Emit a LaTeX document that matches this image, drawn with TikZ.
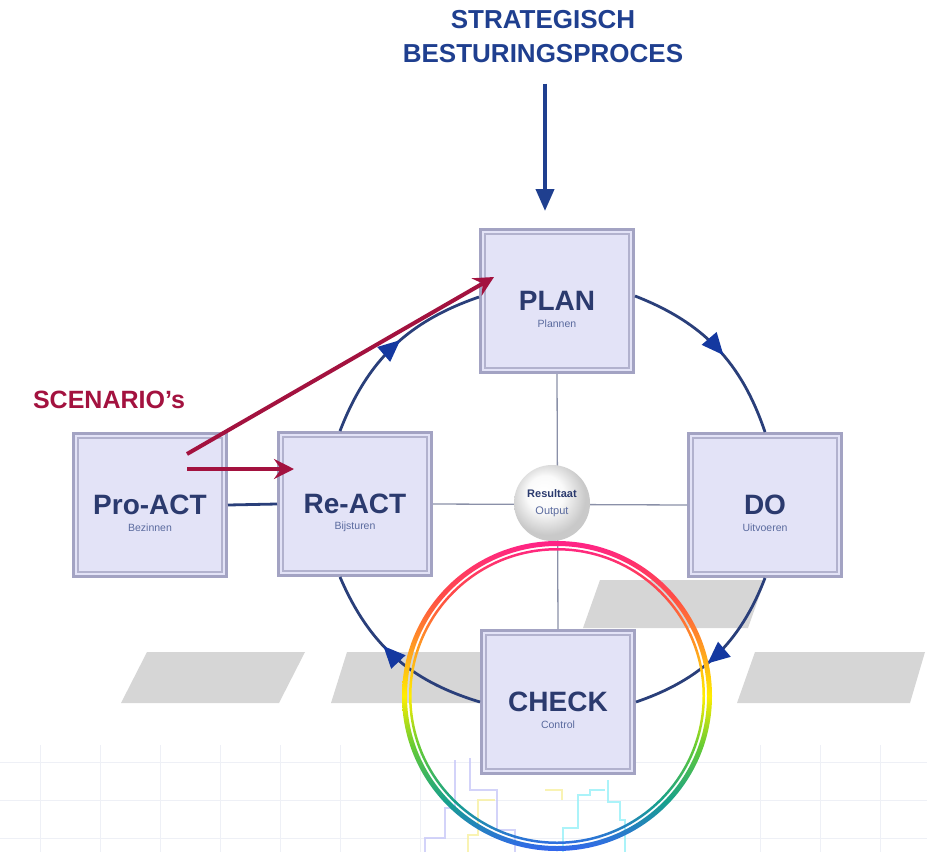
\documentclass[tikz,border=0pt]{standalone}
\usepackage{fontspec}
\setmainfont{Liberation Sans}
\usetikzlibrary{arrows.meta,decorations.markings,calc,shadings}
\definecolor{navy}{HTML}{2B3A6E}
\definecolor{subc}{HTML}{5A6A9E}
\definecolor{boxfill}{HTML}{E3E3F7}
\definecolor{boxedge}{HTML}{A3A3C3}
\definecolor{boxinner}{HTML}{B2B2CE}
\definecolor{arcnavy}{HTML}{2A3F7A}
\definecolor{arrowblue}{HTML}{1438A0}
\definecolor{titleblue}{HTML}{1F3F8F}
\definecolor{scenred}{HTML}{A3123F}
\definecolor{crossc}{HTML}{8A90A8}
\definecolor{shadowc}{HTML}{D6D6D6}
\definecolor{gridc}{HTML}{EEF0F6}
\definecolor{ballout}{HTML}{C9C9C9}
\definecolor{rbBlue}{HTML}{3366EE}
\definecolor{rbTeal}{HTML}{16A08C}
\definecolor{rbGreen}{HTML}{66CC33}
\definecolor{rbYellow}{HTML}{FFEE00}
\definecolor{rbOrange}{HTML}{FF9A22}
\definecolor{rbRed}{HTML}{FF4D45}
\definecolor{rbPink}{HTML}{FF2288}
\pgfdeclareverticalshading{rainbowring}{100bp}{color(0bp)=(rbBlue); color(25bp)=(rbBlue); color(33bp)=(rbTeal); color(42bp)=(rbGreen); color(50bp)=(rbYellow); color(58bp)=(rbOrange); color(66bp)=(rbRed); color(75bp)=(rbPink); color(100bp)=(rbPink)}
\pgfdeclareradialshading{softball}{\pgfpoint{-6bp}{8bp}}{color(0bp)=(white); color(12bp)=(white!96!gray); color(25bp)=(ballout); color(50bp)=(ballout)}
\tikzset{
  pdcabox/.style={rectangle, fill=boxfill, draw=boxedge, line width=3pt,
    minimum width=153pt, minimum height=143pt, inner sep=0pt, text=navy,
    font=\bfseries\fontsize{28}{30}\selectfont},
  sublbl/.style={font=\fontsize{10.5}{12}\selectfont, text=subc, yshift=-23pt},
  innerrect/.style={draw=boxinner, line width=1.8pt},
  crossline/.style={draw=crossc, line width=1.3pt},
  cyc/.style={draw=arcnavy, line width=2.8pt, bend left=25, postaction={decorate},
    decoration={markings, mark=at position #1 with {\arrow[arrowblue]{Triangle[length=22pt,width=19pt]}}}},
  redarrow/.style={draw=scenred, line width=4pt, -{Stealth[length=20pt,width=20pt,inset=7pt]}},
  navyarrow/.style={draw=titleblue, line width=4pt, -{Triangle[length=22pt,width=18pt]}},
  pastel/.style={line width=1.4pt, opacity=0.8}
}
\begin{document}
\begin{tikzpicture}[x=1pt,y=-1pt]
\useasboundingbox (0,0) rectangle (927,852);
% shadows
\fill[shadowc] (147,652) -- (305,652) -- (279,703) -- (121,703) -- cycle;
\fill[shadowc] (347,652) -- (520,652) -- (500,703) -- (331,703) -- cycle;
\fill[shadowc] (600,580) -- (765,580) -- (748,628) -- (583,628) -- cycle;
\fill[shadowc] (755,652) -- (925,652) -- (910,703) -- (737,703) -- cycle;
% faint grid
\foreach \yy in {762,800,838} \draw[gridc, line width=1pt] (0,\yy) -- (927,\yy);
\foreach \xx in {40,100,160,220,280,340,420,760,820,880} \draw[gridc, line width=1pt] (\xx,745) -- (\xx,852);
% pastel step lines
\draw[pastel, draw={rgb,255:red,200;green,200;blue,248}] (425,852) -- (425,838) -- (445,838) -- (445,808) -- (455,808) -- (455,760);
\draw[pastel, draw={rgb,255:red,200;green,200;blue,248}] (470,758) -- (470,790) -- (497,790) -- (497,830) -- (515,830) -- (515,852);
\draw[pastel, draw={rgb,255:red,248;green,240;blue,160}] (468,852) -- (468,835) -- (478,835) -- (478,800) -- (495,800);
\draw[pastel, draw={rgb,255:red,248;green,240;blue,160}] (545,790) -- (562,790) -- (562,800);
\draw[pastel, draw={rgb,255:red,150;green,240;blue,248}] (563,852) -- (563,828) -- (578,828) -- (578,795) -- (590,795) -- (590,790) -- (605,790);
\draw[pastel, draw={rgb,255:red,150;green,240;blue,248}] (608,780) -- (608,802) -- (620,802) -- (620,820) -- (625,820) -- (625,852);
% boxes
\node[pdcabox, label={[sublbl]center:Plannen}] (plan) at (557,301) {PLAN};
\node[pdcabox, label={[sublbl]center:Bijsturen}] (react) at (355,504) {Re-ACT};
\node[pdcabox, label={[sublbl]center:Bezinnen}] (proact) at (150,505) {Pro-ACT};
\node[pdcabox, label={[sublbl]center:Uitvoeren}] (do) at (765,505) {DO};
\node[pdcabox, label={[sublbl]center:Control}] (check) at (558,702) {CHECK};
\foreach \n in {plan,react,proact,do,check}
  \draw[innerrect] ([shift={(6pt,-6pt)}]\n.north west) rectangle ([shift={(-6pt,6pt)}]\n.south east);
% cross lines and result ball
\draw[crossline] (plan.south) -- (check.north);
\draw[crossline] (react.east) -- (do.west);
\node[circle, minimum size=76pt, inner sep=0pt, shading=softball, align=center,
  font=\fontsize{11}{17}\selectfont] (res) at (552,503)
  {\textcolor{navy}{\bfseries Resultaat}\\\textcolor{subc}{Output}};
% pro-act to re-act
\draw[draw=arcnavy, line width=2.8pt] (proact.east) -- (react.west);
% cycle arcs
\draw[cyc=0.55] ([yshift=5pt]plan.east) to (do.north);
\draw[cyc=0.56] (do.south) to (check.east);
\draw[cyc=0.58] (check.west) to ([xshift=-15pt]react.south);
\draw[cyc=0.55] ([xshift=-15pt]react.north) to ([yshift=4pt]plan.west);
% title and top arrow
\node[font=\bfseries\fontsize{26}{34}\selectfont, text=titleblue, align=center] (title) at (543,37) {STRATEGISCH\\BESTURINGSPROCES};
\draw[navyarrow] ([xshift=2pt,yshift=-17pt]title.south) -- ([xshift=-12pt,yshift=17pt]plan.north);
% scenarios
\node[font=\bfseries\fontsize{25}{30}\selectfont, text=scenred] (scen) at (109,400) {SCENARIO's};
\coordinate (scen1) at (187,454);
\coordinate (scen2) at (187,469);
\draw[redarrow] (scen1) -- ([xshift=15pt,yshift=24pt]plan.west);
\draw[redarrow] (scen2) -- ([xshift=17pt,yshift=35pt]react.west);
% rainbow ring
\coordinate (ringc) at (557,696);
\shade[shading=rainbowring, even odd rule] (ringc) circle[radius=155pt] (ringc) circle[radius=150pt] (ringc) circle[radius=148pt] (ringc) circle[radius=145.5pt];
\end{tikzpicture}
\end{document}
